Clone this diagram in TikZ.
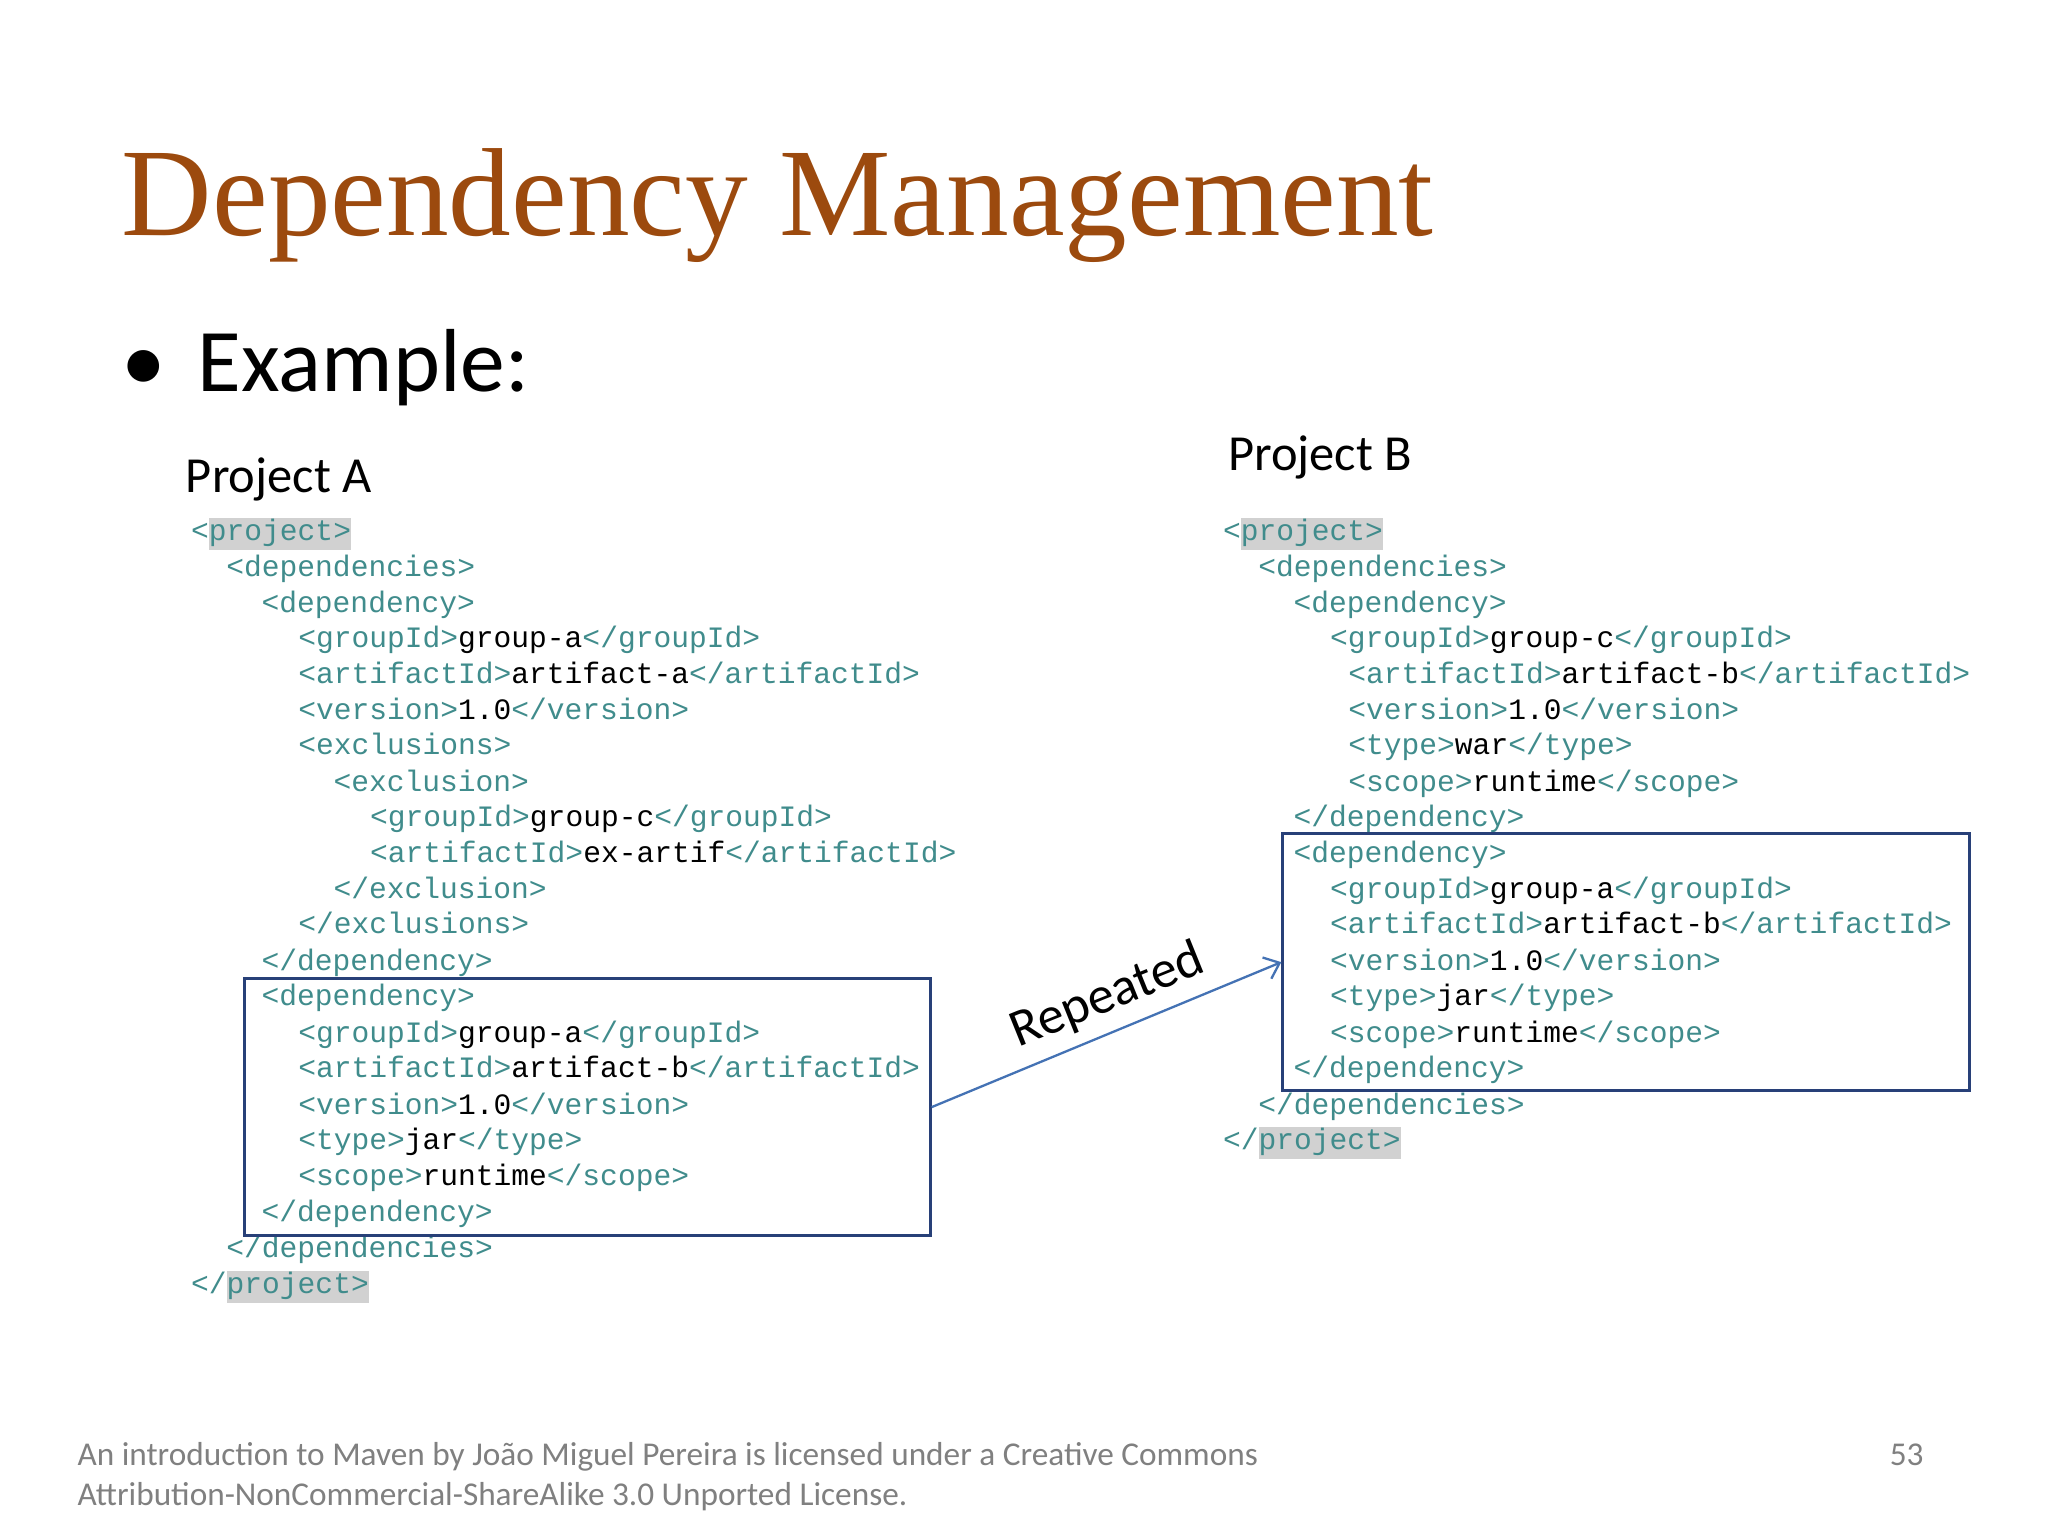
\documentclass[tikz,border=0pt]{standalone}
\usetikzlibrary{arrows.meta}
\usepackage{fontspec}
\setmainfont{Carlito}
\setmonofont{Liberation Mono}
\newfontfamily\titlefont{Liberation Serif}
\definecolor{tagc}{RGB}{64,140,140}
\definecolor{titlec}{RGB}{156,74,14}
\definecolor{boxc}{RGB}{40,64,120}
\definecolor{arrc}{RGB}{68,114,180}
\definecolor{footc}{RGB}{128,128,128}
\newcommand{\tg}[1]{\textcolor{tagc}{#1}}
\newcommand{\hlw}[1]{{\setlength{\fboxsep}{0pt}\colorbox{black!18}{\strut\tg{#1}}}}
\newcommand{\cl}[4]{\node[code] (#1) at (#2,#3+3) {#4};}
\begin{document}
\begin{tikzpicture}[x=0.02cm,y=-0.02cm,
  code/.style={anchor=base west,inner sep=0pt,font=\ttfamily\fontsize{12.9pt}{14pt}\selectfont},
  codebox/.style={draw=boxc,line width=1.3pt,anchor=north west,inner sep=0pt},
  foot/.style={anchor=base west,inner sep=0pt,text=footc,font=\fontsize{14.5pt}{18pt}\selectfont}]
\useasboundingbox (0,0) rectangle (1568,1176);
\fill[white] (0,0) rectangle (1568,1176);
\node[anchor=base west,inner sep=0pt,text=titlec,font=\titlefont\fontsize{54.6pt}{60pt}\selectfont] (title) at (93,180) {Dependency Management};
\node[anchor=base west,inner sep=0pt,font=\fontsize{39pt}{44pt}\selectfont] (ex) at (93,300) {\textbullet\hspace{0.35em}Example:};
\node[anchor=base west,inner sep=0pt,font=\fontsize{22pt}{26pt}\selectfont] (pa) at (142,377) {Project A};
\node[anchor=base west,inner sep=0pt,font=\fontsize{22pt}{26pt}\selectfont] (pb) at (940,360) {Project B};
% Project A
\cl{a1}{146}{411}{\tg{<}\hlw{project>}}
\cl{a2}{173}{438}{\tg{<dependencies>}}
\cl{a3}{200}{466}{\tg{<dependency>}}
\cl{a4}{228}{493}{\tg{<groupId>}group-a\tg{</groupId>}}
\cl{a5}{228}{520}{\tg{<artifactId>}artifact-a\tg{</artifactId>}}
\cl{a6}{228}{548}{\tg{<version>}1.0\tg{</version>}}
\cl{a7}{228}{575}{\tg{<exclusions>}}
\cl{a8}{255}{603}{\tg{<exclusion>}}
\cl{a9}{283}{630}{\tg{<groupId>}group-c\tg{</groupId>}}
\cl{a10}{283}{657}{\tg{<artifactId>}ex-artif\tg{</artifactId>}}
\cl{a11}{255}{685}{\tg{</exclusion>}}
\cl{a12}{228}{712}{\tg{</exclusions>}}
\cl{a13}{200}{740}{\tg{</dependency>}}
\cl{a14}{200}{767}{\tg{<dependency>}}
\cl{a15}{228}{795}{\tg{<groupId>}group-a\tg{</groupId>}}
\cl{a16}{228}{822}{\tg{<artifactId>}artifact-b\tg{</artifactId>}}
\cl{a17}{228}{850}{\tg{<version>}1.0\tg{</version>}}
\cl{a18}{228}{877}{\tg{<type>}jar\tg{</type>}}
\cl{a19}{228}{905}{\tg{<scope>}runtime\tg{</scope>}}
\cl{a20}{200}{932}{\tg{</dependency>}}
\cl{a21}{173}{960}{\tg{</dependencies>}}
\cl{a22}{146}{987}{\tg{</}\hlw{project>}}
% Project B
\cl{b1}{936}{411}{\tg{<}\hlw{project>}}
\cl{b2}{963}{438}{\tg{<dependencies>}}
\cl{b3}{990}{466}{\tg{<dependency>}}
\cl{b4}{1018}{493}{\tg{<groupId>}group-c\tg{</groupId>}}
\cl{b5}{1032}{520}{\tg{<artifactId>}artifact-b\tg{</artifactId>}}
\cl{b6}{1032}{548}{\tg{<version>}1.0\tg{</version>}}
\cl{b7}{1032}{575}{\tg{<type>}war\tg{</type>}}
\cl{b8}{1032}{603}{\tg{<scope>}runtime\tg{</scope>}}
\cl{b9}{990}{630}{\tg{</dependency>}}
\cl{b10}{990}{657}{\tg{<dependency>}}
\cl{b11}{1018}{685}{\tg{<groupId>}group-a\tg{</groupId>}}
\cl{b12}{1018}{712}{\tg{<artifactId>}artifact-b\tg{</artifactId>}}
\cl{b13}{1018}{740}{\tg{<version>}1.0\tg{</version>}}
\cl{b14}{1018}{767}{\tg{<type>}jar\tg{</type>}}
\cl{b15}{1018}{795}{\tg{<scope>}runtime\tg{</scope>}}
\cl{b16}{990}{822}{\tg{</dependency>}}
\cl{b17}{963}{850}{\tg{</dependencies>}}
\cl{b18}{936}{877}{\tg{</}\hlw{project>}}
% boxes
\node[codebox,minimum width=525*0.02cm,minimum height=197*0.02cm] (boxA) at (186,748) {};
\node[codebox,minimum width=526*0.02cm,minimum height=197*0.02cm] (boxB) at (981,637) {};
\draw[arrc,line width=1pt,-{Straight Barb[length=6pt,width=10pt]}] (boxA.east) -- (boxB.west);
\node[rotate=22,font=\fontsize{23pt}{28pt}\selectfont,inner sep=0pt] (rep) at (848,763) {Repeated};
% footer
\node[foot] (foot1) at (59,1122) {An introduction to Maven by João Miguel Pereira is licensed under a Creative Commons};
\node[foot] (foot2) at (59,1153) {Attribution-NonCommercial-ShareAlike 3.0 Unported License.};
\node[foot,anchor=base east] (pg) at (1473,1122) {53};
\end{tikzpicture}
\end{document}
